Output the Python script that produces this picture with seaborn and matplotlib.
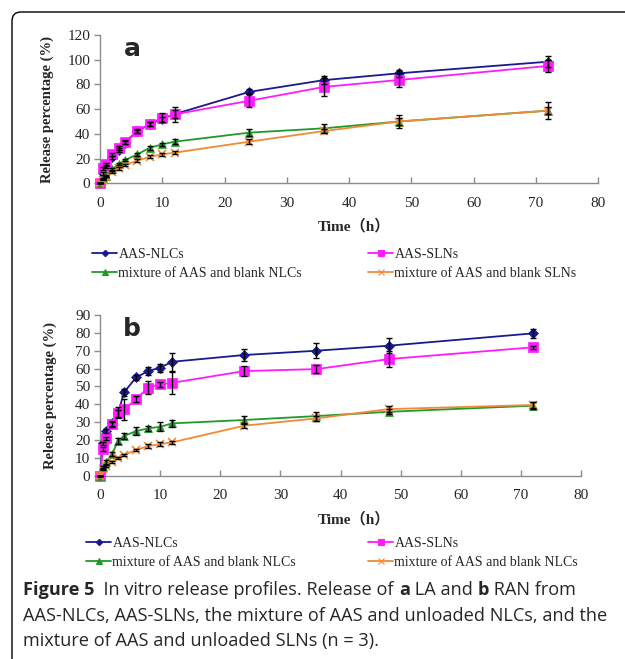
import numpy as np
import pandas as pd
import matplotlib
matplotlib.use("Agg")
import matplotlib.pyplot as plt
import seaborn as sns
from matplotlib.lines import Line2D
from matplotlib.patches import FancyBboxPatch

# ---------------- data ----------------
time_h = [0, 0.5, 1, 2, 3, 4, 6, 8, 10, 12, 24, 36, 48, 72]

series_names = ["AAS-NLCs", "AAS-SLNs",
                "mixture of AAS and blank NLCs", "mixture of AAS and blank SLNs"]
legend_b = ["AAS-NLCs", "AAS-SLNs",
            "mixture of AAS and blank NLCs", "mixture of AAS and blank NLCs"]

# Panel a (LA)
a_nlc = [0, 8, 13, 21, 27, 33, 42, 48, 52, 56, 74, 83.5, 89, 98.4]
a_sln = [0, 12, 15.6, 23.4, 28.8, 33.7, 42.3, 48, 53, 55.8, 66.8, 78, 83.6, 95]
a_mixn = [0, 4, 6, 11.3, 15.6, 18.8, 23.4, 28.8, 31.5, 33.7, 41, 44.5, 50, 58.8]
a_mixs = [0, 3, 5.4, 9.4, 12.1, 14.8, 18.3, 21.5, 23.4, 24.8, 33.7, 42.3, 50, 58.8]
a_nlc_sd = [0, 1, 1, 1, 1.5, 1.5, 1.5, 1.5, 2, 3, 2, 3.4, 2.7, 4.5]
a_sln_sd = [0, 1, 1, 1.5, 1.5, 1.5, 1.5, 2, 3.8, 6, 5.4, 7, 6, 5]
a_mixn_sd = [0, 0.5, 0.5, 1, 1, 1, 1, 1.5, 1.5, 2, 3, 3.6, 5, 7]
a_mixs_sd = [0, 0.5, 0.5, 1, 1, 1, 1, 1, 1, 1, 2, 2, 3, 3]

# Panel b (RAN)
b_nlc = [0, 18.1, 25, 29.3, 35, 46.7, 55, 58.6, 60.5, 63.8, 67.6, 70, 72.8, 79.7]
b_sln = [0, 14.9, 20.9, 28.7, 35.3, 37.1, 42.9, 49.3, 51.1, 52, 58.6, 59.7, 65.3, 71.9]
b_mixn = [0, 5, 7.8, 12, 19.4, 22.2, 25, 26.5, 27.4, 29.3, 31.2, 33.4, 35.8, 39.2]
b_mixs = [0, 3.5, 5.6, 7.5, 9.7, 11.6, 14.4, 16.6, 17.7, 18.7, 28, 32.1, 37.3, 39.6]
b_nlc_sd = [0, 1, 1, 1.5, 2, 2, 1.5, 2, 2.3, 5, 3.3, 4.2, 4.2, 2.6]
b_sln_sd = [0, 1, 1, 1.5, 3, 5.8, 1.5, 3.5, 1.5, 6, 2.8, 2.3, 4.7, 1]
b_mixn_sd = [0, 0.5, 1, 1, 1.5, 1.5, 2, 1.5, 2.5, 2, 2, 2.5, 1.5, 2]
b_mixs_sd = [0, 0.5, 0.5, 0.5, 0.5, 0.5, 0.5, 1, 1, 1, 1.5, 1.5, 1.5, 1.5]

colors = ["#1a1a8c", "#ff1aff", "#1f9a2a", "#f08a36"]
markers = ["D", "s", "^", "x"]
msizes = [5, 7, 6, 6]

caption_lines = [
    [("Figure 5", True), ("  In vitro release profiles. Release of ", False),
     ("a", True), (" LA and ", False), ("b", True), (" RAN from", False)],
    [("AAS-NLCs, AAS-SLNs, the mixture of AAS and unloaded NLCs, and the", False)],
    [("mixture of AAS and unloaded SLNs (n = 3).", False)],
]

# ---------------- figure ----------------
W, H = 625, 659
sns.set_theme(style="white")
plt.rcParams["font.family"] = ["Liberation Serif", "Noto Sans CJK SC", "DejaVu Sans"]
fig = plt.figure(figsize=(W / 100, H / 100), dpi=100)


def fx(x):
    return x / W


def fy(y):
    return 1 - y / H


# border with rounded top-left corner
border = FancyBboxPatch((fx(12), fy(700)), fx(700), fy(12) - fy(700),
                        boxstyle="round,pad=0,rounding_size=0.014",
                        transform=fig.transFigure, fill=False,
                        edgecolor="black", linewidth=1.0, clip_on=True)
fig.patches.append(border)


def make_panel(rect_px, vals, sds, ymax, ystep, letter, xlab_y, leg_top, leg_cols,
               leg_labels, ylab_x, xpad):
    l, r, t, b = rect_px
    ax = fig.add_axes([fx(l), fy(b), fx(r) - fx(l), fy(t) - fy(b)])
    for i in range(4):
        df = pd.DataFrame({"time": time_h, "value": vals[i]})
        sns.lineplot(data=df, x="time", y="value", ax=ax, color=colors[i],
                     marker=markers[i], markersize=msizes[i],
                     markeredgecolor=colors[i],
                     markeredgewidth=1.2 if markers[i] == "x" else 0.5,
                     linewidth=1.3, clip_on=False, zorder=3 + i * 0.1)
        ax.errorbar(time_h, vals[i], yerr=sds[i], fmt="none", ecolor="black",
                    elinewidth=1.0, capsize=2.5, capthick=1.0, zorder=5, clip_on=False)
    ax.set_xlim(0, 80)
    ax.set_ylim(0, ymax)
    ax.set_xticks(np.arange(0, 81, 10))
    ax.set_yticks(np.arange(0, ymax + 1, ystep))
    for s in ["top", "right"]:
        ax.spines[s].set_visible(False)
    for s in ["left", "bottom"]:
        ax.spines[s].set_color("#8c8c8c")
        ax.spines[s].set_linewidth(1.0)
    ax.tick_params(axis="y", direction="out", length=4, width=1, color="#8c8c8c",
                   labelsize=11, pad=3, left=True)
    ax.tick_params(axis="x", direction="in", length=4, width=1, color="#8c8c8c",
                   labelsize=11, pad=xpad, bottom=True)
    ax.set_xlabel("")
    ax.set_ylabel("")
    ax.set_facecolor("none")
    ax.grid(False)
    fig.text(fx(ylab_x), (fy(t) + fy(b)) / 2, "Release percentage (%)", rotation=90,
             ha="center", va="center", fontsize=10.5, fontweight="bold")
    fig.text(fx(354), fy(xlab_y), "Time（h）", ha="center", va="center",
             fontsize=11, fontweight="bold")
    ax.text(0.048, 0.985, letter, transform=ax.transAxes, ha="left", va="top",
            fontsize=18, fontweight="bold", family=["DejaVu Sans"])
    for c in range(2):
        handles = []
        labels = []
        for rrow in range(2):
            i = rrow * 2 + c
            handles.append(Line2D([0], [0], color=colors[i], marker=markers[i],
                                  markersize=msizes[i] * 0.65, markeredgecolor=colors[i],
                                  markeredgewidth=0.8, linewidth=1.3))
            labels.append(leg_labels[i])
        fig.legend(handles, labels, loc="upper left",
                   bbox_to_anchor=(fx(leg_cols[c]), fy(leg_top)),
                   frameon=False, fontsize=10, handlelength=1.8, handletextpad=0.1,
                   labelspacing=0.42, borderpad=0, borderaxespad=0)
    return ax


make_panel((100, 598, 35, 183.3), [a_nlc, a_sln, a_mixn, a_mixs],
           [a_nlc_sd, a_sln_sd, a_mixn_sd, a_mixs_sd], 120, 20, "a", 226,
           248, (92, 368), series_names, 47, 10)
make_panel((100, 581, 315, 475.7), [b_nlc, b_sln, b_mixn, b_mixs],
           [b_nlc_sd, b_sln_sd, b_mixn_sd, b_mixs_sd], 90, 10, "b", 519,
           537, (86, 368), legend_b, 50, 9.5)

# caption
cap_font = ["Open Sans", "DejaVu Sans"]
fs = 13.1
fig.canvas.draw()
renderer = fig.canvas.get_renderer()
for line, ypx in zip(caption_lines, [590, 616, 641]):
    x = fx(23)
    for txt, bold in line:
        tt = fig.text(x, fy(ypx), txt, ha="left", va="center", fontsize=fs,
                      fontweight="bold" if bold else "normal", family=cap_font)
        x = tt.get_window_extent(renderer).x1 / W

fig.savefig("out.png", dpi=100)
